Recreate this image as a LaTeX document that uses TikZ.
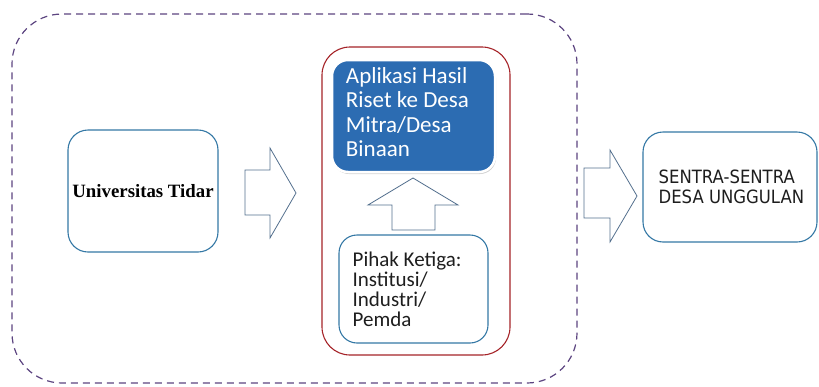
\documentclass[tikz,border=0pt]{standalone}
\usepackage{fontspec}
\setmainfont{Carlito}
\newfontfamily\univfont{Liberation Serif}
\newfontfamily\sentrafont[FakeStretch=0.9]{DejaVu Sans}
\usepackage{tikz}
\usetikzlibrary{shadows}
\definecolor{framepurple}{RGB}{92,68,128}
\definecolor{boxblue}{RGB}{52,120,165}
\definecolor{boxred}{RGB}{165,35,40}
\definecolor{fillblue}{RGB}{44,108,178}
\definecolor{arrowblue}{RGB}{84,112,142}
\definecolor{textgray}{RGB}{30,30,30}
\tikzset{
  roundbox/.style={shape=rectangle, rounded corners=20pt, draw=boxblue, line width=1.1pt},
  blockarrow/.style={draw=arrowblue, line width=0.8pt, fill=white, line join=miter},
  label/.style={anchor=west, align=left, inner sep=0pt}
}

\begin{document}
\begin{tikzpicture}[x=1pt, y=-1pt]
\useasboundingbox (0,0) rectangle (819,386);
% outer dashed frame
\node at (294.5,198.5) [shape=rectangle, rounded corners=50pt, draw=framepurple, line width=1.2pt,
  dash pattern=on 7pt off 5pt, minimum width=565pt, minimum height=369pt] (frame) {};
% left box
\node at (143,191) [roundbox, minimum width=150pt, minimum height=122pt] (univ)
  {\univfont\bfseries\fontsize{18.8}{22}\selectfont Universitas Tidar};
% middle group
\node at (416,201) [shape=rectangle, rounded corners=28pt, draw=boxred, line width=1.1pt,
  minimum width=188pt, minimum height=308pt] (mitra) {};
\node at (413.5,116) [shape=rectangle, rounded corners=16pt, fill=fillblue, draw=white, line width=2.5pt,
  drop shadow={shadow xshift=1pt, shadow yshift=-2pt, opacity=0.35},
  minimum width=163pt, minimum height=112pt] (aplikasi) {};
\node [label, text=white, font=\fontsize{23}{24.5}\selectfont] at ([xshift=15pt, yshift=4pt]aplikasi.west)
  (aplikasitext) {Aplikasi Hasil\\Riset ke Desa\\Mitra/Desa\\Binaan};
\node at (413.5,289) [roundbox, rounded corners=18pt, minimum width=149pt, minimum height=108pt] (pihak) {};
\node [label, text=textgray, font=\fontsize{21}{20}\selectfont] at ([xshift=14pt]pihak.west)
  (pihaktext) {Pihak Ketiga:\\Institusi/\\Industri/\\Pemda};
% right box
\node at (730,187) [roundbox, minimum width=174pt, minimum height=110pt] (sentra) {};
\node [label, text=textgray, font=\sentrafont\fontsize{18.3}{20.5}\selectfont] at ([xshift=16pt]sentra.west)
  (sentratext) {SENTRA-SENTRA\\DESA UNGGULAN};
% block arrows
\draw [blockarrow] (245,170) -- (270,170) -- (270,148) -- (296,193) -- (270,238) -- (270,215) -- (245,215) -- cycle;
\draw [blockarrow] (392,230) -- (392,205) -- (368,205) -- (413,178) -- (458,205) -- (435,205) -- (435,230) -- cycle;
\draw [blockarrow] (584,168) -- (610,168) -- (610,150) -- (637,196) -- (610,242) -- (610,218) -- (584,218) -- cycle;
\end{tikzpicture}
\end{document}
